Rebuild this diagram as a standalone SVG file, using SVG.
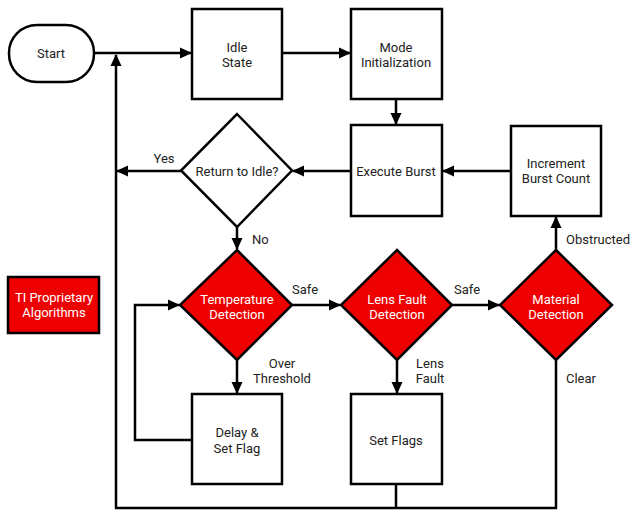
<svg xmlns="http://www.w3.org/2000/svg" width="636" height="517" viewBox="0 0 636 517">
<defs>
<marker id="ah" markerUnits="userSpaceOnUse" markerWidth="12" markerHeight="12" viewBox="0 0 12 12" refX="11" refY="6" orient="auto">
<path d="M0,0.5 L12,6 L0,11.5 Z" fill="#000"/>
</marker>
<style>
.box{fill:#fff;stroke:#000;stroke-width:2.5}
.red{fill:#ee0000;stroke:#000;stroke-width:2.5}
.t{font-family:Roboto,"Liberation Sans",sans-serif;font-size:13px;fill:#222;text-anchor:middle}
.w{fill:#fff}
.l{font-family:Roboto,"Liberation Sans",sans-serif;font-size:13px;fill:#222}
.c{fill:none;stroke:#000;stroke-width:2.5}
</style>
</defs>
<rect width="636" height="517" fill="#fff"/>
<g id="connectors">
<path class="c" d="M94,53 H191" marker-end="url(#ah)"/>
<path class="c" d="M282,53 H350" marker-end="url(#ah)"/>
<path class="c" d="M396,99 V124" marker-end="url(#ah)"/>
<path class="c" d="M351,171 H293" marker-end="url(#ah)"/>
<path class="c" d="M181,171 H117" marker-end="url(#ah)"/>
<path class="c" d="M511,171 H443" marker-end="url(#ah)"/>
<path class="c" d="M237,227 V249" marker-end="url(#ah)"/>
<path class="c" d="M292,305 H340" marker-end="url(#ah)"/>
<path class="c" d="M452,305 H499" marker-end="url(#ah)"/>
<path class="c" d="M556,250 V217" marker-end="url(#ah)"/>
<path class="c" d="M237,360 V393" marker-end="url(#ah)"/>
<path class="c" d="M397,360 V393" marker-end="url(#ah)"/>
<path class="c" d="M192,440 H135 V305 H179" marker-end="url(#ah)"/>
<path class="c" d="M396,484 V508"/>
<path class="c" d="M556,360 V508 H116 V55" marker-end="url(#ah)"/>
<text class="t" x="164" y="162.5">Yes</text>
<text class="l" x="252" y="243.5">No</text>
<text class="l" x="566" y="243.5">Obstructed</text>
<text class="t" x="305" y="293.5">Safe</text>
<text class="t" x="467" y="293.5">Safe</text>
<text class="t" x="282" y="367.5">Over</text>
<text class="t" x="282" y="382.5">Threshold</text>
<text class="t" x="430" y="367.5">Lens</text>
<text class="t" x="430" y="382.5">Fault</text>
<text class="l" x="566" y="382.5">Clear</text>
</g>
<g id="start">
<rect class="box" x="9" y="25" width="85" height="57" rx="28" ry="28"/>
<text class="t" x="51" y="57.5">Start</text>
</g>
<g id="idle">
<rect class="box" x="192" y="9" width="90" height="90"/>
<text class="t" x="237" y="51.5">Idle</text>
<text class="t" x="237" y="66.5">State</text>
</g>
<g id="mode">
<rect class="box" x="351" y="9" width="91" height="90"/>
<text class="t" x="396" y="51.5">Mode</text>
<text class="t" x="396" y="66.5">Initialization</text>
</g>
<g id="execute">
<rect class="box" x="351" y="125" width="91" height="91"/>
<text class="t" x="396" y="175.5">Execute Burst</text>
</g>
<g id="increment">
<rect class="box" x="511" y="126" width="90" height="90"/>
<text class="t" x="556" y="167.5">Increment</text>
<text class="t" x="556" y="182.5">Burst Count</text>
</g>
<g id="return">
<path class="box" d="M237,114 L292,170.5 L237,227 L181,170.5 Z"/>
<text class="t" x="237" y="175.5">Return to Idle?</text>
</g>
<g id="ti">
<rect class="red" x="8" y="277" width="91" height="56"/>
<text class="t w" x="54" y="301.5">TI Proprietary</text>
<text class="t w" x="54" y="316.5">Algorithms</text>
</g>
<g id="temp">
<path class="red" d="M237,250 L292,305 L237,360 L180,305 Z"/>
<text class="t w" x="237" y="303.5">Temperature</text>
<text class="t w" x="237" y="318.5">Detection</text>
</g>
<g id="lens">
<path class="red" d="M397,250 L452,305 L397,360 L341,305 Z"/>
<text class="t w" x="397" y="303.5">Lens Fault</text>
<text class="t w" x="397" y="318.5">Detection</text>
</g>
<g id="material">
<path class="red" d="M556,250 L612,305 L556,360 L500,305 Z"/>
<text class="t w" x="556" y="303.5">Material</text>
<text class="t w" x="556" y="318.5">Detection</text>
</g>
<g id="delay">
<rect class="box" x="192" y="394" width="90" height="90"/>
<text class="t" x="237" y="436.5">Delay &amp;</text>
<text class="t" x="237" y="452.5">Set Flag</text>
</g>
<g id="setflags">
<rect class="box" x="351" y="394" width="91" height="90"/>
<text class="t" x="396" y="444.5">Set Flags</text>
</g>
</svg>
